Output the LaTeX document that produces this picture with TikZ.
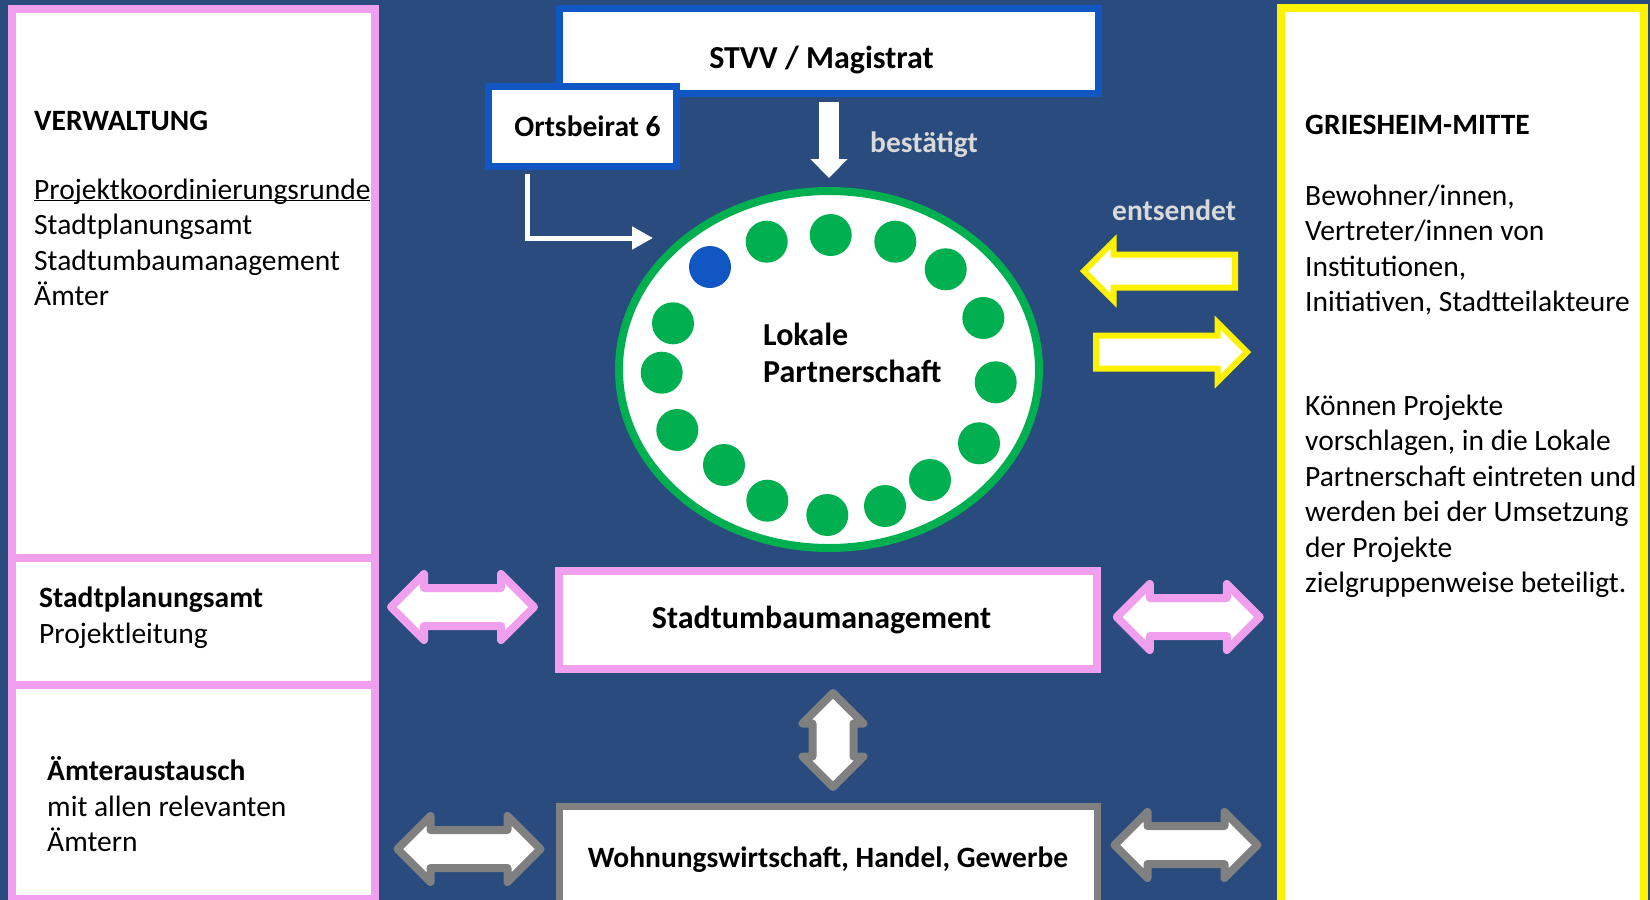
\documentclass[tikz,border=0pt]{standalone}
\usepackage{fontspec}
\setmainfont{Carlito}
\usepackage{tikz}
\usetikzlibrary{positioning}
\usetikzlibrary{shapes.geometric,shapes.arrows,arrows.meta}

\definecolor{bgblue}{RGB}{41,75,125}
\definecolor{lilac}{RGB}{240,158,238}
\definecolor{boxblue}{RGB}{17,87,196}
\definecolor{lpgreen}{RGB}{0,176,80}
\definecolor{arrgray}{RGB}{128,128,128}
\definecolor{labelgray}{RGB}{217,217,217}
\newcommand{\bodyfont}{\fontsize{29.5}{35.5}\selectfont}
\newcommand{\bigfont}{\fontsize{32}{37}\selectfont}

\begin{document}
\begin{tikzpicture}[x=1pt, y=-1pt,
panelnode/.style={rectangle, draw, fill=white, line width=8pt, inner sep=0pt},
boxnode/.style={rectangle, draw, fill=white, line width=7pt, inner sep=0pt, font=\bodyfont\bfseries},
textnode/.style={anchor=north west, align=left, inner sep=0pt, font=\bodyfont},
labelnode/.style={anchor=base west, inner sep=0pt, text=labelgray, font=\bodyfont\bfseries},
dotnode/.style={circle, fill=lpgreen, minimum size=42pt, inner sep=0pt},
yarrow/.style={single arrow, draw=yellow, fill=white, line width=6pt, inner sep=13.5pt, single arrow head extend=13pt, minimum height=151pt, anchor=tail},
darrow/.style={double arrow, fill=white, line width=8pt, line join=round, inner sep=15pt, double arrow head extend=14pt, minimum height=143pt},
edge/.style={draw=white, line width=5pt, -{Triangle[length=21pt,width=22pt]}}
]
\useasboundingbox (0,0) rectangle (1650,900);
\fill[bgblue] (0,0) rectangle (1650,900);

%Panels
\node[panelnode, draw=lilac, minimum width=363.5pt, minimum height=548.5pt] (verw) at (193.25,283.25) {};
\node[panelnode, draw=lilac, minimum width=363.5pt, minimum height=127.5pt] (spa) at (193.25,621.25) {};
\node[panelnode, draw=lilac, minimum width=363.5pt, minimum height=214pt] (aemter) at (193.25,792) {};
\node[panelnode, draw=yellow, minimum width=363pt, minimum height=907pt] (gm) at (1462.5,461.5) {};

%Nodes
\node[boxnode, draw=boxblue, minimum width=539pt, minimum height=85pt, text height=34pt, text depth=0pt, font=\bigfont\bfseries] (stvv) at (829,51) {\hspace*{-15pt}STVV / Magistrat};
\node[boxnode, draw=boxblue, minimum width=188pt, minimum height=80pt] (ob) at (582.5,126.5) {\hspace*{10pt}Ortsbeirat 6};
\node[ellipse, draw=lpgreen, fill=white, line width=8pt, minimum width=420pt, minimum height=357pt, inner sep=0pt] (lp) at (829,369.5) {};
\node[boxnode, draw=lilac, line width=8pt, minimum width=538pt, minimum height=98pt, font=\bigfont\bfseries] (sum) at (828,620) {\hspace*{-13pt}Stadtumbaumanagement};
\node[boxnode, draw=arrgray, minimum width=538pt, minimum height=107pt] (whg) at (828,860) {Wohnungswirtschaft, Handel, Gewerbe};

%Members
\node[dotnode, fill=boxblue] (dot0) at (710,267) {};
\foreach \x/\y [count=\i] in {766.7/241.7, 830.7/235, 895.3/241.7, 945.7/269.3, 983.3/318, 995.7/382.3, 979/443.3, 930/480, 885/506, 827.3/515, 767.3/500.7, 724/465, 677.3/430, 661.7/372.7, 673/323.3}
  \node[dotnode] (dot\i) at (\x,\y) {};

%Texts
\node[textnode] (verwtext) at (34,105.15) {\strut\textbf{VERWALTUNG}\\[33.5pt] \underline{\smash{Projektkoordinierungsrunde}}\\Stadtplanungsamt\\Stadtumbaumanagement\\Ämter};
\node[textnode] (spatext) at (39,582.85) {\strut\textbf{Stadtplanungsamt}\\Projektleitung};
\node[textnode] (aemtertext) at (47,755.85) {\strut\textbf{Ämteraustausch}\\mit allen relevanten\\Ämtern};
\node[textnode] (gmtext) at (1305,109.15) {\strut\textbf{GRIESHEIM-MITTE}\\[35.5pt] Bewohner/innen,\\Vertreter/innen von\\Institutionen,\\Initiativen, Stadtteilakteure\\[68pt] Können Projekte\\vorschlagen, in die Lokale\\Partnerschaft eintreten und\\werden bei der Umsetzung\\der Projekte\\zielgruppenweise beteiligt.};
\node[textnode, font=\bigfont\bfseries] (lptext) at (763,319.8) {\strut Lokale\\Partnerschaft};
\node[labelnode] (best) at (870,152) {bestätigt};
\node[labelnode] (ents) at (1112,220) {entsendet};

%Block arrows
\node[yarrow, shape border rotate=180] (yarrL) at (1238,271) {};
\node[yarrow] (yarrR) at (1093,352) {};
\node[darrow, draw=lilac] (parrL) at (462.5,607) {};
\node[darrow, draw=lilac] (parrR) at (1188.3,617) {};
\node[darrow, draw=arrgray] (garrL) at (469,849) {};
\node[darrow, draw=arrgray] (garrR) at (1186,845) {};
\node[darrow, draw=arrgray, shape border rotate=90, minimum height=94pt, inner sep=16.5pt, double arrow head extend=10pt] (garrV) at (833,740) {};

%Edges
\coordinate (obin) at (653,238);
\draw[line width=20pt, white, -{Triangle[length=19pt,width=36pt]}, shorten <=4.5pt, shorten >=9pt] (stvv.south) -- (lp.north);
\draw[edge, shorten <=3.5pt] ([xshift=-55.5pt]ob.south) |- (obin);

\end{tikzpicture}
\end{document}
